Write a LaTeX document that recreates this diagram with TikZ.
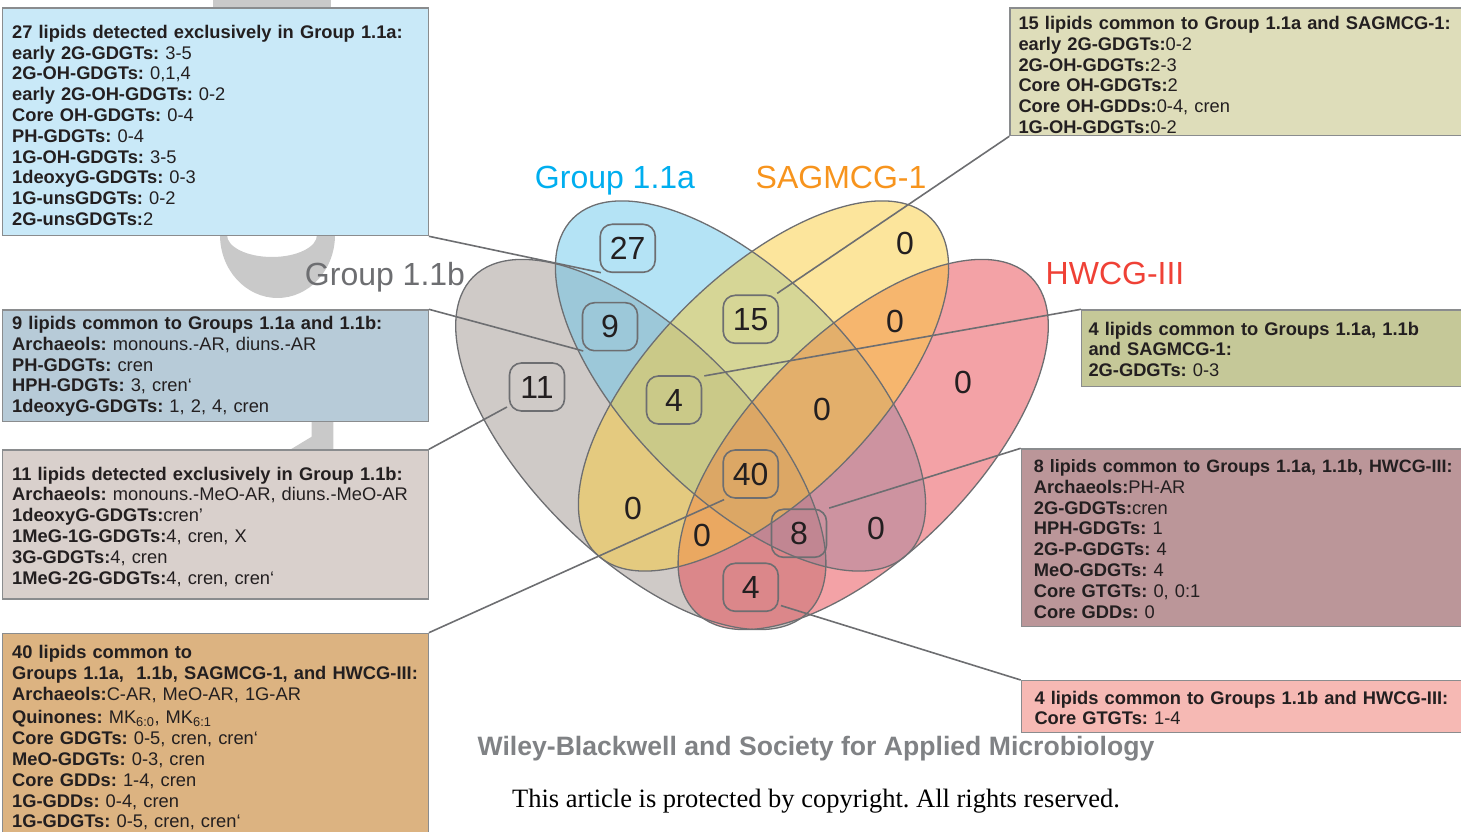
\documentclass[tikz,border=0pt]{standalone}
\usepackage{fontspec}
\setmainfont{Liberation Sans}
\newfontfamily\timesfont{Liberation Serif}
\usetikzlibrary{positioning}
\frenchspacing

\definecolor{lineg}{HTML}{6D6E71}
\definecolor{boxline}{HTML}{8A8C8E}
\definecolor{txt}{HTML}{231F20}
\definecolor{setb}{RGB}{159,149,143}
\definecolor{seta}{RGB}{105,199,235}
\definecolor{sets}{RGB}{249,203,57}
\definecolor{seth}{RGB}{231,69,77}
\definecolor{namea}{HTML}{00AEEF}
\definecolor{names}{HTML}{F7941D}
\definecolor{nameb}{HTML}{6D6E71}
\definecolor{nameh}{HTML}{EF4136}
\definecolor{boxa}{RGB}{201,233,248}
\definecolor{boxas}{RGB}{222,221,186}
\definecolor{boxab}{RGB}{183,203,216}
\definecolor{boxb}{RGB}{217,208,204}
\definecolor{boxall}{RGB}{220,179,129}
\definecolor{boxabs}{RGB}{197,200,152}
\definecolor{boxabh}{RGB}{187,150,153}
\definecolor{boxbh}{RGB}{246,185,180}
\definecolor{wmark}{HTML}{C9C9C9}
\definecolor{wiley}{HTML}{808285}

\begin{document}
\begin{tikzpicture}[
        x=1pt, y=1pt,
        setfill/.style={fill opacity=0.5},
        setline/.style={draw=lineg, line width=1.3pt},
        setname/.style={anchor=base, inner sep=0pt, font=\fontsize{32}{36}\selectfont},
        countbox/.style={
            draw=lineg,
            line width=1.6pt,
            rounded corners=12pt,
            minimum width=55pt,
            minimum height=48pt,
            inner sep=0pt,
            text=txt,
            font=\fontsize{32}{36}\selectfont
        },
        zerolabel/.style={inner sep=0pt, text=txt, font=\fontsize{32}{36}\selectfont},
        infobox/.style={draw=boxline, line width=1.3pt, anchor=north west, inner sep=0pt},
        info/.style={
            anchor=north west,
            inner sep=0pt,
            align=left,
            text width=470pt,
            text=txt,
            font=\fontsize{18.3}{20.8}\selectfont
        },
        leader/.style={draw=lineg, line width=1.6pt, shorten >=2pt}
    ]
        \useasboundingbox (0,0) rectangle (1461,832);

        \fill[wmark] (213,820) rectangle (331,832);
        \fill[wmark, even odd rule] (220,600) -- (220,597) arc[start angle=180, end angle=360, x radius=57.5, y radius=63] -- (335,600) -- cycle
            (227,600) -- (227,597) arc[start angle=180, end angle=360, x radius=45, y radius=22] -- (317,600) -- cycle;
        \fill[wmark] (311.7,415) -- (333.3,415) -- (333.3,378) -- (283,378) -- (311.7,395.3) -- cycle;

        \coordinate (cb) at (640.8,387.5);
        \coordinate (ca) at (740.5,446);
        \coordinate (cs) at (763.5,446);
        \coordinate (ch) at (863.2,387.5);

        \fill[setb, setfill, rotate around={-45:(cb)}] (cb) ellipse [x radius=237, y radius=111];
        \fill[seta, setfill, rotate around={-45:(ca)}] (ca) ellipse [x radius=237, y radius=111];
        \fill[seth, setfill, rotate around={45:(ch)}] (ch) ellipse [x radius=237, y radius=111];
        \fill[sets, setfill, rotate around={45:(cs)}] (cs) ellipse [x radius=237, y radius=111];
        \draw[setline, rotate around={-45:(cb)}] (cb) ellipse [x radius=237, y radius=111];
        \draw[setline, rotate around={-45:(ca)}] (ca) ellipse [x radius=237, y radius=111];
        \draw[setline, rotate around={45:(ch)}] (ch) ellipse [x radius=237, y radius=111];
        \draw[setline, rotate around={45:(cs)}] (cs) ellipse [x radius=237, y radius=111];

        \node[setname, text=namea] (la) at (615,643.5) {Group 1.1a};
        \node[setname, text=names] (ls) at (841,643.5) {SAGMCG-1};
        \node[setname, text=nameb] (lb) at (385,546.5) {Group 1.1b};
        \node[setname, text=nameh] (lh) at (1115,547.5) {HWCG-III};

        \node[countbox] (n27) at (627.7,583.7) {27};
        \node[countbox] (n9) at (610,505.3) {9};
        \node[countbox] (n11) at (537,445) {11};
        \node[countbox] (n15) at (750.7,512.7) {15};
        \node[countbox] (n4c) at (674,432) {4};
        \node[countbox] (n40) at (750.7,358) {40};
        \node[countbox] (n8) at (799,298.7) {8};
        \node[countbox] (n4h) at (750.7,244.7) {4};

        \node[zerolabel] (z1) at (905,589) {0};
        \node[zerolabel] (z2) at (895,511) {0};
        \node[zerolabel] (z3) at (963,450) {0};
        \node[zerolabel] (z4) at (822,423) {0};
        \node[zerolabel] (z5) at (633,324) {0};
        \node[zerolabel] (z6) at (702,297) {0};
        \node[zerolabel] (z7) at (876,304) {0};

        \node[infobox, fill=boxa, minimum width=425.6pt, minimum height=227.7pt] (b27) at (2,824.7) {};
        \node[infobox, fill=boxas, minimum width=451.4pt, minimum height=127.7pt] (b15) at (1009.3,824.7) {};
        \node[infobox, fill=boxab, minimum width=425.6pt, minimum height=111.4pt] (b9) at (2,522.7) {};
        \node[infobox, fill=boxb, minimum width=425.6pt, minimum height=149pt] (b11) at (2,382.7) {};
        \node[infobox, fill=boxall, minimum width=425.6pt, minimum height=210pt] (b40) at (2,199.3) {};
        \node[infobox, fill=boxabs, minimum width=379.7pt, minimum height=76.7pt] (b4s) at (1081,522.7) {};
        \node[infobox, fill=boxabh, minimum width=445pt, minimum height=177.7pt] (b8) at (1020.7,383.7) {};
        \node[infobox, fill=boxbh, minimum width=440pt, minimum height=52pt] (b4h) at (1020.7,152) {};

        \node[info, below right=17.5pt and 10pt of b27.north west] (t27) {\textbf{27 lipids detected exclusively in Group 1.1a:}\\
            \textbf{early 2G-GDGTs:} 3-5\\
            \textbf{2G-OH-GDGTs:} 0,1,4\\
            \textbf{early 2G-OH-GDGTs:} 0-2\\
            \textbf{Core OH-GDGTs:} 0-4\\
            \textbf{PH-GDGTs:} 0-4\\
            \textbf{1G-OH-GDGTs:} 3-5\\
            \textbf{1deoxyG-GDGTs:} 0-3\\
            \textbf{1G-unsGDGTs:} 0-2\\
            \textbf{2G-unsGDGTs:}2};
        \node[info, below right=8.7pt and 9pt of b15.north west] (t15) {\textbf{15 lipids common to Group 1.1a and SAGMCG-1:}\\
            \textbf{early 2G-GDGTs:}0-2\\
            \textbf{2G-OH-GDGTs:}2-3\\
            \textbf{Core OH-GDGTs:}2\\
            \textbf{Core OH-GDDs:}0-4, cren\\
            \textbf{1G-OH-GDGTs:}0-2};
        \node[info, below right=6.7pt and 10pt of b9.north west] (t9) {\textbf{9 lipids common to Groups 1.1a and 1.1b:}\\
            \textbf{Archaeols:} monouns.-AR, diuns.-AR\\
            \textbf{PH-GDGTs:} cren\\
            \textbf{HPH-GDGTs:} 3, cren‘\\
            \textbf{1deoxyG-GDGTs:} 1, 2, 4, cren};
        \node[info, below right=17.3pt and 10pt of b11.north west] (t11) {\textbf{11 lipids detected exclusively in Group 1.1b:}\\
            \textbf{Archaeols:} monouns.-MeO-AR, diuns.-MeO-AR\\
            \textbf{1deoxyG-GDGTs:}cren'\\
            \textbf{1MeG-1G-GDGTs:}4, cren, X\\
            \textbf{3G-GDGTs:}4, cren\\
            \textbf{1MeG-2G-GDGTs:}4, cren, cren‘};
        \node[info, below right=12.3pt and 10pt of b40.north west] (t40) {\textbf{40 lipids common to}\\
            \textbf{Groups 1.1a,\ \ 1.1b, SAGMCG-1, and HWCG-III:}\\
            \textbf{Archaeols:}C-AR, MeO-AR, 1G-AR\\[3pt]
            \textbf{Quinones:} MK\textsubscript{6:0}, MK\textsubscript{6:1}\\
            \textbf{Core GDGTs:} 0-5, cren, cren‘\\
            \textbf{MeO-GDGTs:} 0-3, cren\\
            \textbf{Core GDDs:} 1-4, cren\\
            \textbf{1G-GDDs:} 0-4, cren\\
            \textbf{1G-GDGTs:} 0-5, cren, cren‘};
        \node[info, below right=12.4pt and 7.3pt of b4s.north west] (t4s) {\textbf{4 lipids common to Groups 1.1a, 1.1b}\\
            \textbf{and SAGMCG-1:}\\
            \textbf{2G-GDGTs:} 0-3};
        \node[info, below right=11pt and 13pt of b8.north west] (t8) {{\fontsize{17.9}{20.8}\selectfont\textbf{8 lipids common to Groups 1.1a, 1.1b, HWCG-III:}}\\
            \textbf{Archaeols:}PH-AR\\
            \textbf{2G-GDGTs:}cren\\
            \textbf{HPH-GDGTs:} 1\\
            \textbf{2G-P-GDGTs:} 4\\
            \textbf{MeO-GDGTs:} 4\\
            \textbf{Core GTGTs:} 0, 0:1\\
            \textbf{Core GDDs:} 0};
        \node[info, font=\fontsize{18.3}{20}\selectfont, below right=11.5pt and 13.6pt of b4h.north west] (t4h) {\textbf{4 lipids common to Groups 1.1b and HWCG-III:}\\
            \textbf{Core GTGTs:} 1-4};

        \foreach \source/\target in {b27.south east/n27.225, b15.south west/n15.45, b9.north east/n9.225, b11.north east/n11.214, b40.north east/n40.225, b4s.north west/n4c.40, b8.north west/n8.41, b4h.north west/n4h.-32} {
            \draw[leader] (\source) -- (\target);
        }

        \node[anchor=base, inner sep=0pt, text=wiley, font=\bfseries\fontsize{26.6}{30}\selectfont] (pub) at (816,76) {Wiley-Blackwell and Society for Applied Microbiology};
        \node[anchor=base, inner sep=0pt, text=black, font=\timesfont\fontsize{26.5}{30}\selectfont] (note) at (816,24) {This article is protected by copyright. All rights reserved.};
    \end{tikzpicture}
\end{document}
